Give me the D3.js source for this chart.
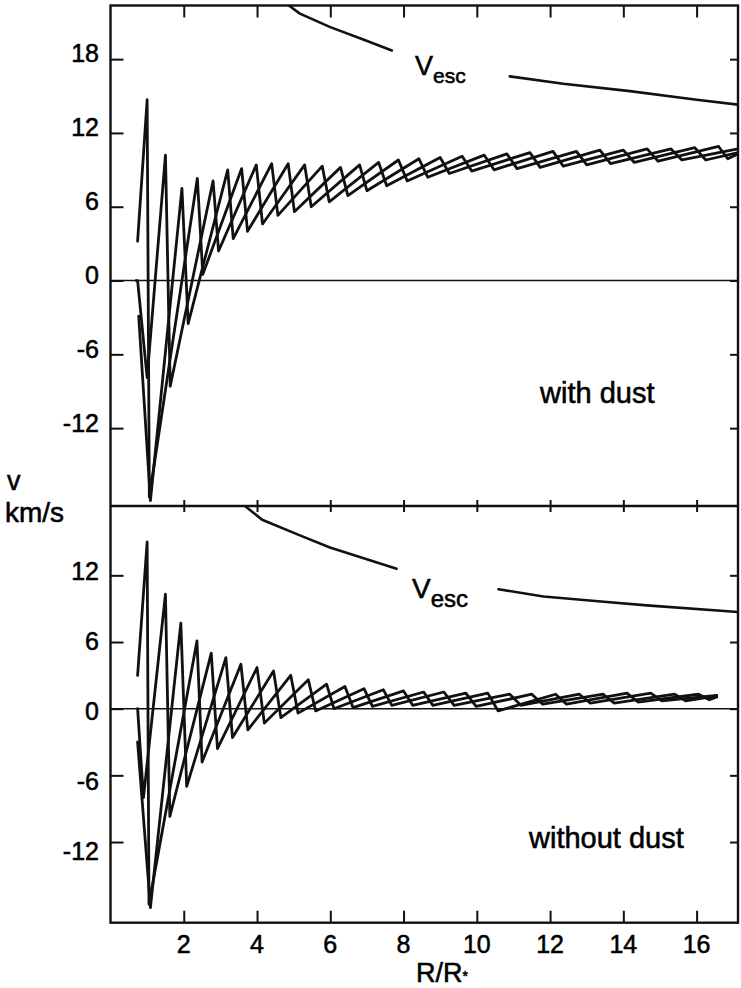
<!DOCTYPE html>
<html><head><meta charset="utf-8">
<script src="https://cdn.jsdelivr.net/npm/d3@7"></script>
<style>
body{margin:0;background:#fff}
svg{display:block}
text{font-family:"Liberation Sans",Arial,Helvetica,sans-serif;fill:#000;stroke:#000;stroke-width:0.55px}
</style></head><body>
<svg id="c" width="741" height="988"></svg>
<script>
// ---------- data ----------
const xTicks = [2,4,6,8,10,12,14,16];
const yTicksTop = [18,12,6,0,-6,-12];
const yTicksBottom = [12,6,0,-6,-12];

// escape velocity, upper panel (two pieces, gap for the label)
const vescDustA = [[4.85,22.4],[5.17,21.7],[6.0,20.6],[6.9,19.6],[7.68,18.7]];
const vescDustB = [[10.9,16.6],[12.36,16.0],[14.18,15.4],[16.0,14.7],[17.13,14.3]];
// escape velocity, lower panel
const vescNoDustA = [[3.67,18.24],[4.14,17.0],[5.17,15.6],[5.99,14.5],[7.81,12.6]];
const vescNoDustB = [[10.59,10.75],[11.82,10.1],[13.55,9.6],[14.64,9.3],[17.13,8.7]];

// velocity profiles, with dust (three phases)
const dustA = [[0.74,3.2],[1.0,14.7],[1.06,-17.6],[2.37,8.3],[2.52,0.5],[3.58,9.1],[3.74,4.0],[4.85,9.5],[5.02,5.6],[6.28,9.2],[6.48,6.9],[7.86,9.8],[8.10,8.1],[9.60,10.1],[9.86,8.9],[11.45,10.4],[11.73,9.2],[13.36,10.6],[13.65,9.5],[15.30,10.7],[15.60,9.8],[17.13,10.7]];
const dustB = [[0.70,0.0],[0.74,0.0],[1.0,-7.9],[1.50,10.2],[1.63,-8.6],[2.80,8.1],[2.95,2.4],[3.98,9.4],[4.15,4.6],[5.30,9.4],[5.48,6.0],[6.80,9.4],[7.00,7.3],[8.42,9.9],[8.66,8.4],[10.20,10.2],[10.47,9.0],[12.08,10.5],[12.36,9.3],[14.00,10.6],[14.30,9.6],[15.95,10.8],[16.25,9.8],[17.13,10.4]];
const dustC = [[0.77,-2.9],[1.09,-17.9],[1.95,7.5],[2.12,-3.5],[3.20,9.0],[3.35,3.4],[4.40,9.5],[4.57,5.3],[5.78,9.3],[5.97,6.4],[7.32,9.6],[7.54,7.7],[9.00,10.0],[9.25,8.7],[10.82,10.3],[11.10,9.1],[12.72,10.5],[13.00,9.4],[14.65,10.7],[14.95,9.7],[16.60,10.9],[16.85,9.9],[17.13,10.3]];

// velocity profiles, without dust (three phases)
const noDustA = [[0.74,3.0],[1.0,15.0],[1.05,-17.6],[2.36,6.1],[2.50,-4.8],[3.56,4.0],[3.75,-1.9],[4.92,3.0],[5.12,-0.4],[6.40,2.0],[6.62,0.1],[8.00,1.6],[8.25,0.3],[9.70,1.4],[9.98,0.2],[11.50,1.3],[11.80,0.4],[13.45,1.3],[13.75,0.5],[15.40,1.3],[15.70,0.7],[16.55,1.15]];
const noDustB = [[0.74,0.0],[0.90,-8.0],[1.50,10.3],[1.62,-9.7],[2.75,5.0],[2.92,-3.6],[4.00,3.7],[4.20,-1.3],[5.40,2.6],[5.60,-0.2],[6.92,1.8],[7.15,0.2],[8.55,1.5],[8.80,0.3],[10.30,1.4],[10.58,-0.2],[12.15,1.3],[12.45,0.4],[14.10,1.4],[14.40,0.6],[16.05,1.3],[16.35,0.8],[16.55,1.05]];
const noDustC = [[0.74,-3.0],[1.09,-17.9],[1.92,7.7],[2.08,-7.0],[3.15,4.6],[3.33,-2.6],[4.45,3.4],[4.65,-0.8],[5.90,2.2],[6.10,0.0],[7.45,1.7],[7.68,0.3],[9.10,1.5],[9.38,0.3],[10.90,1.3],[11.20,0.3],[12.80,1.3],[13.10,0.5],[14.75,1.4],[15.05,0.7],[16.55,1.2]];

// ---------- layout ----------
const svg = d3.select("#c");
const L = 110.5, R = 738, T = 5.5, M = 506, B = 922.7;
const x = d3.scaleLinear().domain([0, 17.13]).range([L, R]);
const yTop = d3.scaleLinear().domain([-18.33, 22.36]).range([M, T]);
const yBot = d3.scaleLinear().domain([-19.26, 18.24]).range([B, M]);
// label baselines (the original lettering is not exactly on the ticks)
const yTopLab = d3.scaleLinear().domain([-12, 18]).range([432, 62]);
const yBotLab = d3.scaleLinear().domain([-12, 12]).range([860, 580]);

const ink = "#111";

function panel(clipId, y0, y1){
  svg.append("clipPath").attr("id", clipId).append("rect")
    .attr("x", L).attr("y", y0).attr("width", R - L).attr("height", y1 - y0);
}
panel("clipTop", T, M);
panel("clipBot", M, B);

function drawLines(ys, clipId, series, w){
  const line = d3.line().x(d => x(d[0])).y(d => ys(d[1]));
  svg.append("g").attr("clip-path", `url(#${clipId})`)
    .selectAll("path").data(series).join("path")
    .attr("d", line).attr("fill", "none").attr("stroke", ink)
    .attr("stroke-width", w).attr("stroke-linejoin", "round").attr("stroke-linecap", "round");
}

// zero lines
svg.append("line").attr("x1", L).attr("x2", R).attr("y1", yTop(0)).attr("y2", yTop(0)).attr("stroke", ink).attr("stroke-width", 1.6);
svg.append("line").attr("x1", L).attr("x2", R).attr("y1", yBot(0)).attr("y2", yBot(0)).attr("stroke", ink).attr("stroke-width", 1.6);

drawLines(yTop, "clipTop", [dustA, dustB, dustC], 2.8);
drawLines(yBot, "clipBot", [noDustA, noDustB, noDustC], 2.8);
drawLines(yTop, "clipTop", [vescDustA, vescDustB], 2.6);
drawLines(yBot, "clipBot", [vescNoDustA, vescNoDustB], 2.6);

// ---------- axes / ticks ----------
function tickAxis(axis, tx){
  const g = svg.append("g").attr("transform", tx).call(axis);
  g.select(".domain").remove();
  g.selectAll(".tick line").attr("stroke", ink).attr("stroke-width", 2);
  g.selectAll(".tick text").remove();
  return g;
}
tickAxis(d3.axisLeft(yTop).tickValues(yTicksTop).tickSize(-13), `translate(${L},0)`);
tickAxis(d3.axisLeft(yBot).tickValues(yTicksBottom).tickSize(-13), `translate(${L},0)`);
tickAxis(d3.axisRight(yTop).tickValues(yTicksTop).tickSize(-8), `translate(${R},0)`);
tickAxis(d3.axisRight(yBot).tickValues(yTicksBottom).tickSize(-8), `translate(${R},0)`);
tickAxis(d3.axisTop(x).tickValues(xTicks).tickSize(-12), `translate(0,${T})`);
tickAxis(d3.axisBottom(x).tickValues(xTicks).tickSize(-12), `translate(0,${B})`);
// ticks crossing the panel divider
tickAxis(d3.axisBottom(x).tickValues(xTicks).tickSize(6), `translate(0,${M})`);
tickAxis(d3.axisTop(x).tickValues(xTicks).tickSize(6), `translate(0,${M})`);

// frame
svg.append("rect").attr("x", L).attr("y", T).attr("width", R - L).attr("height", B - T)
  .attr("fill", "none").attr("stroke", ink).attr("stroke-width", 2.4);
svg.append("line").attr("x1", L).attr("x2", R).attr("y1", M).attr("y2", M).attr("stroke", ink).attr("stroke-width", 2.4);

// tick labels
const fs = 25;
svg.append("g").selectAll("text").data(yTicksTop).join("text")
  .attr("x", 99).attr("y", d => yTopLab(d)).attr("text-anchor", "end")
  .attr("font-size", fs).text(d => d);
svg.append("g").selectAll("text").data(yTicksBottom).join("text")
  .attr("x", 99).attr("y", d => yBotLab(d)).attr("text-anchor", "end")
  .attr("font-size", fs).text(d => d);
svg.append("g").selectAll("text").data(xTicks).join("text")
  .attr("x", d => x(d)).attr("y", 953).attr("text-anchor", "middle")
  .attr("font-size", fs).text(d => d);

// axis titles
svg.append("text").attr("x", 7).attr("y", 490).attr("font-size", 27).text("v");
svg.append("text").attr("x", 5).attr("y", 522).attr("font-size", 28).text("km/s");
const xt = svg.append("text").attr("x", 416).attr("y", 982).attr("font-size", 27);
xt.append("tspan").text("R/R");
xt.append("tspan").attr("font-size", 14).attr("dy", -1).text("*");

// panel labels
svg.append("text").attr("x", 540).attr("y", 403).attr("font-size", 29).text("with dust");
svg.append("text").attr("x", 529).attr("y", 848).attr("font-size", 29).text("without dust");

// V_esc labels
const v1 = svg.append("text").attr("x", 415).attr("y", 75).attr("font-size", 27);
v1.append("tspan").text("V");
v1.append("tspan").attr("font-size", 21).attr("dy", 8).text("esc");
const v2 = svg.append("text").attr("x", 412).attr("y", 598).attr("font-size", 28);
v2.append("tspan").text("V");
v2.append("tspan").attr("font-size", 24).attr("dy", 9).text("esc");
</script>
</body></html>
